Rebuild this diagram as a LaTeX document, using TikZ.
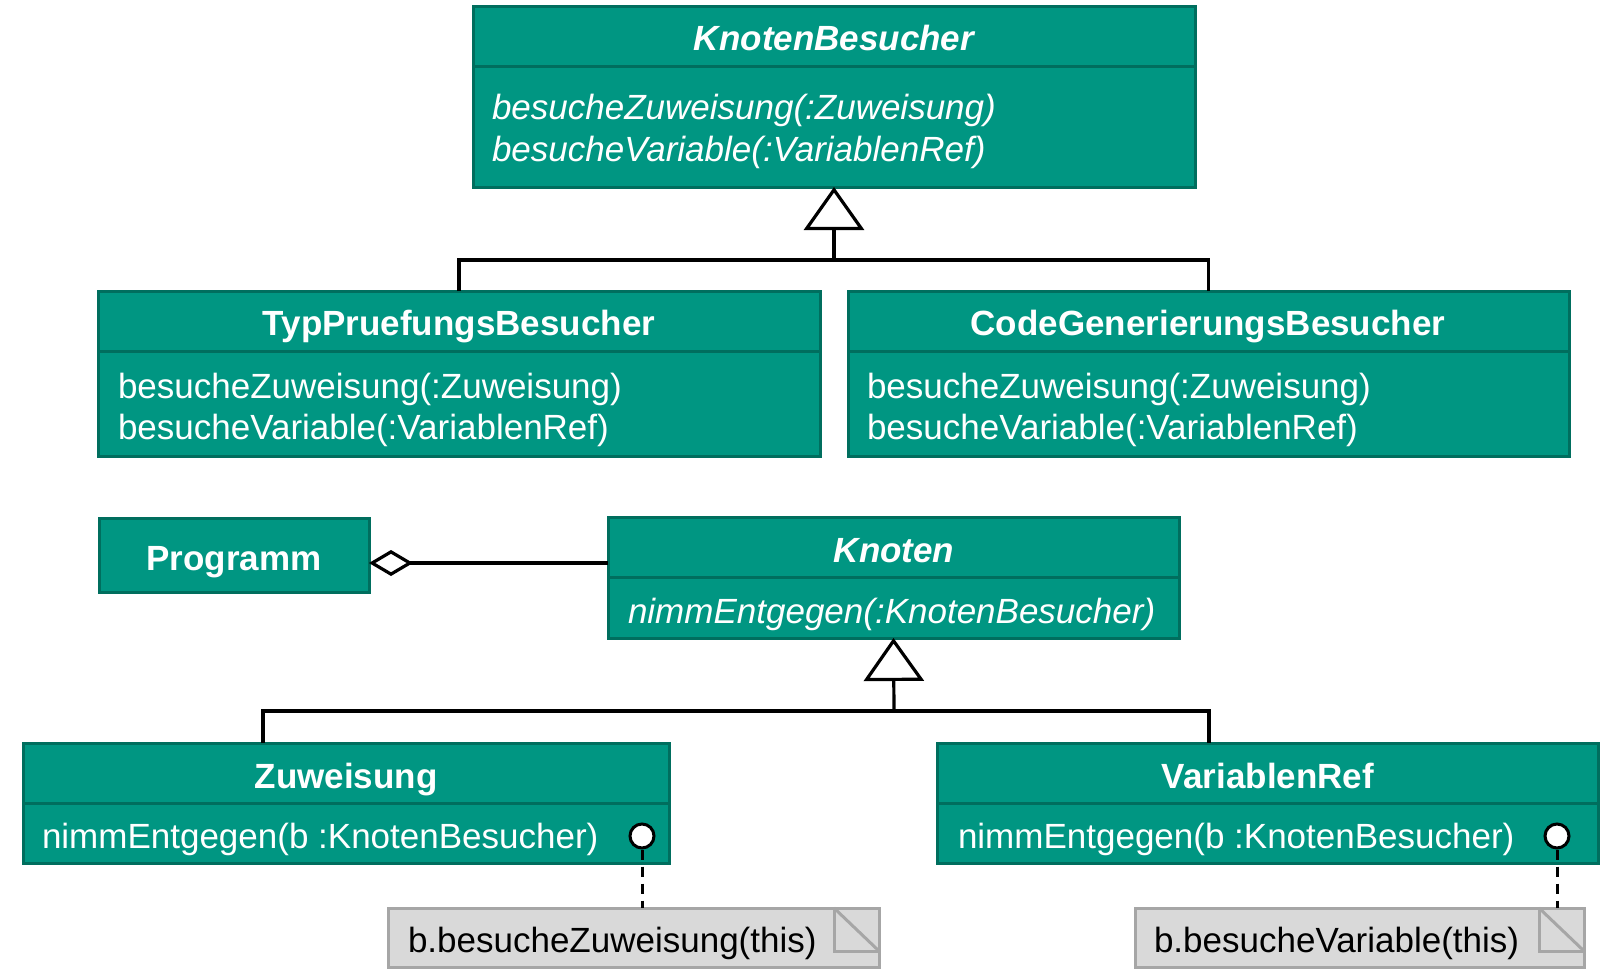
\documentclass[tikz,border=0pt]{standalone}
\usepackage{fontspec}
\setmainfont{Liberation Sans}
\usetikzlibrary{arrows.meta}
\definecolor{tealfill}{RGB}{0,150,130}
\definecolor{tealline}{RGB}{0,110,94}
\definecolor{notefill}{RGB}{217,217,217}
\definecolor{noteline}{RGB}{166,166,166}
\begin{document}
\begin{tikzpicture}[x=1pt,y=-1pt,
  cls/.style={draw=tealline, fill=tealfill, line width=3pt, anchor=north west, inner sep=0pt, outer sep=0pt},
  divline/.style={draw=tealline, line width=3pt},
  txt/.style={inner sep=0pt, outer sep=0pt, text height=26pt, text depth=0pt},
  ttl/.style={txt, text=white, font=\fontsize{35}{42}\selectfont\bfseries},
  ttli/.style={txt, text=white, font=\fontsize{35}{42}\selectfont\bfseries\itshape},
  op/.style={txt, text=white, font=\fontsize{35}{42}\selectfont, anchor=west},
  opi/.style={txt, text=white, font=\fontsize{35}{42}\selectfont\itshape, anchor=west},
  notetxt/.style={txt, text=black, font=\fontsize{35}{42}\selectfont, anchor=west},
  conn/.style={draw=black, line width=3.2pt},
  gen/.style={-{Triangle[fill=white,length=43pt,width=60pt]}},
  agg/.style={{Diamond[fill=white,length=44pt,width=26pt]}-},
  lolli/.style={circle, draw=black, fill=white, line width=3pt, minimum size=24pt, inner sep=0pt},
  notebox/.style={draw=noteline, fill=notefill, line width=3pt, anchor=north west, inner sep=0pt, outer sep=0pt},
  fold/.style={draw=noteline, line width=3pt},
  lnk/.style={draw=black, line width=3pt, dash pattern=on 10pt off 7pt}
]
\useasboundingbox (0,0) rectangle (1619,974);
\fill[white] (0,0) rectangle (1619,974);

% ---------- KnotenBesucher ----------
\node[cls, minimum width=722pt, minimum height=180pt] (kb) at (473,7) {};
\draw[divline] ([yshift=-60pt]kb.north west) -- ([yshift=-60pt]kb.north east);
\node[ttli] (kbt) at (834,38) {KnotenBesucher};
\node[opi] (kbo1) at (492,106) {besucheZuweisung(:Zuweisung)};
\node[opi] (kbo2) at (492,148) {besucheVariable(:VariablenRef)};

% ---------- TypPruefungsBesucher ----------
\node[cls, minimum width=722pt, minimum height=165pt] (tp) at (98,291) {};
\draw[divline] ([yshift=-60pt]tp.north west) -- ([yshift=-60pt]tp.north east);
\node[ttl] (tpt) at (459,322) {TypPruefungsBesucher};
\node[op] (tpo1) at (118,385) {besucheZuweisung(:Zuweisung)};
\node[op] (tpo2) at (118,426) {besucheVariable(:VariablenRef)};

% ---------- CodeGenerierungsBesucher ----------
\node[cls, minimum width=721pt, minimum height=165pt] (cg) at (848,291) {};
\draw[divline] ([yshift=-60pt]cg.north west) -- ([yshift=-60pt]cg.north east);
\node[ttl] (cgt) at (1208,322) {CodeGenerierungsBesucher};
\node[op] (cgo1) at (867,385) {besucheZuweisung(:Zuweisung)};
\node[op] (cgo2) at (867,426) {besucheVariable(:VariablenRef)};

% generalisation 1
\coordinate (kbh) at (834,260);
\draw[conn] (tp.north) |- (kbh) -| (cg.north);
\draw[conn, gen] (kbh) -- (kb.south);

% ---------- Programm ----------
\node[cls, minimum width=270pt, minimum height=74pt] (pg) at (99,518) {};
\node[ttl] (pgt) at (234,557) {Programm};

% ---------- Knoten ----------
\node[cls, minimum width=571pt, minimum height=121pt] (kn) at (608,517) {};
\draw[divline] ([yshift=-60pt]kn.north west) -- ([yshift=-60pt]kn.north east);
\node[ttli] (knt) at (894,549) {Knoten};
\node[opi] (kno1) at (628,610) {nimmEntgegen(:KnotenBesucher)};

% aggregation
\coordinate (aggk) at (608,563);
\draw[conn, agg] (pg.east |- aggk) -- (aggk);

% ---------- Zuweisung ----------
\node[cls, minimum width=646pt, minimum height=120pt] (zu) at (23,743) {};
\draw[divline] ([yshift=-60pt]zu.north west) -- ([yshift=-60pt]zu.north east);
\node[ttl] (zut) at (346,775) {Zuweisung};
\node[op] (zuo1) at (42,835) {nimmEntgegen(b :KnotenBesucher)};

% ---------- VariablenRef ----------
\node[cls, minimum width=661pt, minimum height=120pt] (vr) at (937,743) {};
\draw[divline] ([yshift=-60pt]vr.north west) -- ([yshift=-60pt]vr.north east);
\node[ttl] (vrt) at (1268,775) {VariablenRef};
\node[op] (vro1) at (958,835) {nimmEntgegen(b :KnotenBesucher)};

% generalisation 2
\coordinate (knh) at (894,711);
\coordinate (zuin) at (263,743);
\coordinate (vrin) at (1209,743);
\draw[conn] (zuin) |- (knh) -| (vrin);
\draw[conn, gen] (knh) -- (kn.south);

% ---------- notes ----------
\node[notebox, minimum width=491pt, minimum height=59pt] (n1) at (388,908) {};
\draw[fold] ([xshift=-45pt]n1.north east) -- ([xshift=-45pt,yshift=-43pt]n1.north east) -- ([yshift=-43pt]n1.north east);
\draw[fold] ([xshift=-45pt]n1.north east) -- ([yshift=-43pt]n1.north east);
\node[notetxt] (n1t) at (408,939) {b.besucheZuweisung(this)};

\node[notebox, minimum width=449pt, minimum height=59pt] (n2) at (1135,908) {};
\draw[fold] ([xshift=-45pt]n2.north east) -- ([xshift=-45pt,yshift=-43pt]n2.north east) -- ([yshift=-43pt]n2.north east);
\draw[fold] ([xshift=-45pt]n2.north east) -- ([yshift=-43pt]n2.north east);
\node[notetxt] (n2t) at (1154,939) {b.besucheVariable(this)};

% lollipops and links
\node[lolli] (c1) at (642,836) {};
\node[lolli] (c2) at (1557,836) {};
\draw[lnk] (c1.south) -- (c1.south |- n1.north);
\draw[lnk] (c2.south) -- (c2.south |- n2.north);
\end{tikzpicture}
\end{document}
